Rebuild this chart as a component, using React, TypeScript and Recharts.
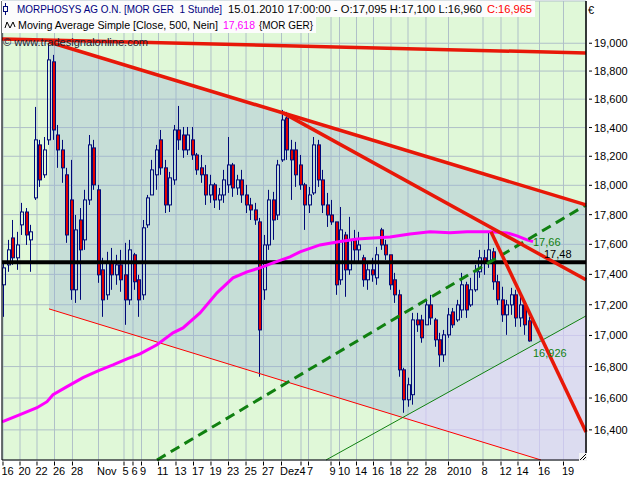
import React from 'react';
import {
  ComposedChart, XAxis, YAxis, CartesianGrid, Bar, Line, Area,
  ReferenceLine, ReferenceDot,
} from 'recharts';

const FONT = '"Liberation Sans", Arial, sans-serif';
const NAVY = '#000a78';
const RED = '#e00000';
const LINE_RED = '#e81808';
const GREEN = '#108010';

// ---- candle data (time index = half trading day bars) ----
const opens = [17.331, 17.463, 17.643, 17.510, 17.731, 17.818, 17.630, 17.914, 18.279, 18.072,
  18.314, 18.866, 18.348, 18.244, 18.072, 17.900, 17.298, 17.764, 17.630, 17.900,
  18.258, 17.969, 17.430, 17.265, 17.483, 17.397, 17.463, 17.397, 17.232, 17.530,
  17.364, 17.265, 17.731, 17.934, 18.072, 18.314, 18.120, 17.866, 18.037, 18.383,
  18.348, 18.244, 18.314, 18.209, 18.120, 18.072, 17.934, 18.003, 17.900, 17.934,
  18.003, 18.140, 17.982, 18.037, 17.934, 17.866, 17.832, 17.751, 17.298, 17.596,
  17.900, 17.798, 18.175, 18.467, 18.244, 18.244, 18.140, 18.003, 17.866, 17.948,
  18.279, 18.037, 17.866, 17.798, 17.751, 17.364, 17.663, 17.430, 17.630, 17.563,
  17.510, 17.364, 17.430, 17.377, 17.697, 17.596, 17.530, 17.364, 17.265, 16.779,
  16.589, 16.621, 17.101, 17.101, 17.069, 17.199, 17.101, 16.972, 16.875, 17.004,
  17.153, 17.101, 17.166, 17.331, 17.199, 17.298, 17.417, 17.510, 17.483, 17.550,
  17.351, 17.232, 17.134, 17.199, 17.265, 17.114, 17.199, 17.095];
const highs = [17.476, 17.630, 17.764, 17.684, 17.880, 17.845, 17.731, 18.545, 18.314, 18.334,
  19.002, 18.916, 18.418, 18.314, 18.120, 18.175, 17.798, 17.845, 17.969, 18.348,
  18.314, 18.003, 17.510, 17.550, 17.576, 17.530, 17.563, 17.610, 17.630, 17.543,
  17.397, 17.764, 17.934, 18.175, 18.279, 18.383, 18.175, 18.092, 18.418, 18.552,
  18.404, 18.404, 18.404, 18.223, 18.209, 18.140, 18.072, 18.017, 17.982, 18.106,
  18.334, 18.154, 18.072, 18.106, 18.003, 17.914, 17.880, 17.778, 17.663, 17.969,
  17.955, 18.175, 18.524, 18.510, 18.314, 18.300, 18.209, 18.017, 17.989, 18.334,
  18.314, 18.106, 17.948, 17.900, 17.751, 17.852, 17.684, 17.785, 17.697, 17.684,
  17.530, 17.483, 17.510, 17.583, 17.711, 17.630, 17.530, 17.410, 17.298, 16.792,
  16.729, 17.147, 17.147, 17.134, 17.232, 17.265, 17.114, 17.017, 17.036, 17.179,
  17.179, 17.232, 17.410, 17.351, 17.377, 17.463, 17.563, 17.563, 17.677, 17.576,
  17.397, 17.318, 17.232, 17.311, 17.298, 17.265, 17.212, 17.120];
const lows = [17.121, 17.417, 17.463, 17.430, 17.663, 17.596, 17.417, 17.900, 17.989, 18.051,
  18.279, 18.314, 18.120, 18.017, 17.610, 17.232, 17.212, 17.232, 17.563, 17.866,
  17.969, 17.344, 17.121, 17.232, 17.298, 17.331, 17.285, 17.069, 17.199, 17.298,
  17.121, 17.232, 17.711, 17.934, 17.969, 18.072, 17.811, 17.818, 18.003, 18.244,
  18.189, 18.209, 18.175, 18.072, 18.017, 17.866, 17.880, 17.845, 17.832, 17.880,
  17.948, 17.921, 17.934, 17.880, 17.811, 17.764, 17.731, 16.735, 17.232, 17.563,
  17.630, 17.764, 18.161, 18.175, 17.900, 17.989, 17.969, 17.697, 17.811, 17.934,
  17.989, 17.811, 17.717, 17.731, 17.265, 17.331, 17.252, 17.397, 17.483, 17.483,
  17.318, 17.298, 17.351, 17.331, 17.563, 17.496, 17.298, 17.212, 16.735, 16.507,
  16.545, 16.558, 17.023, 16.953, 17.069, 17.069, 16.927, 16.798, 16.830, 16.985,
  17.049, 17.088, 17.114, 17.114, 17.186, 17.285, 17.377, 17.397, 17.443, 17.298,
  17.199, 17.088, 17.004, 17.134, 17.056, 17.056, 17.004, 16.960];
const closes = [17.443, 17.563, 17.510, 17.596, 17.818, 17.663, 17.684, 18.314, 18.037, 18.244,
  18.880, 18.383, 18.244, 18.120, 17.663, 17.298, 17.697, 17.563, 17.900, 18.279,
  18.003, 17.397, 17.232, 17.483, 17.397, 17.463, 17.364, 17.232, 17.563, 17.351,
  17.232, 17.711, 17.914, 18.106, 18.244, 18.120, 17.866, 18.051, 18.383, 18.314,
  18.244, 18.348, 18.209, 18.106, 18.072, 17.934, 18.003, 17.900, 17.934, 18.037,
  18.140, 17.982, 18.037, 17.934, 17.866, 17.832, 17.764, 17.036, 17.596, 17.900,
  17.764, 18.140, 18.453, 18.244, 18.175, 18.072, 18.003, 17.866, 17.934, 18.279,
  18.037, 17.866, 17.798, 17.751, 17.331, 17.697, 17.430, 17.630, 17.563, 17.596,
  17.364, 17.430, 17.397, 17.530, 17.596, 17.530, 17.331, 17.265, 16.779, 16.589,
  16.684, 17.101, 17.069, 16.985, 17.199, 17.114, 16.972, 16.875, 17.004, 17.134,
  17.069, 17.199, 17.331, 17.166, 17.298, 17.417, 17.510, 17.483, 17.563, 17.351,
  17.232, 17.134, 17.199, 17.265, 17.114, 17.199, 17.069, 16.965];

// ---- moving average (500) read at sample points ----
const maT = [0, 4.01, 7.79, 10.02, 11.35, 14.47, 18.03, 21.37, 24.71, 27.83, 30.72, 34.5, 38.06, 40.29,
  44.08, 47.86, 51.42, 54.54, 57.43, 60.33, 64.11, 66.34, 70.79, 74.57, 79.02, 82.59, 86.37, 90.82,
  95.28, 99.73, 103.51, 108.63, 112.42, 114.64, 116.87, 118.21];
const maV = [16.45, 16.495, 16.539, 16.577, 16.621, 16.672, 16.729, 16.773, 16.811, 16.849, 16.881, 16.94,
  17.017, 17.049, 17.147, 17.278, 17.377, 17.417, 17.443, 17.476, 17.516, 17.55, 17.596, 17.616,
  17.636, 17.643, 17.65, 17.67, 17.684, 17.677, 17.684, 17.684, 17.677, 17.657, 17.63, 17.618];

// ---- axes ----
const X_DOMAIN = [0, 130];
const Y_DOMAIN = [16.213, 19.308];
const yTicks = [16.4, 16.6, 16.8, 17.0, 17.2, 17.4, 17.6, 17.8, 18.0, 18.2, 18.4, 18.6, 18.8, 19.0];
const xTickT = [0.22, 4.01, 7.79, 11.69, 15.69, 21.48, 27.16, 29.16, 31.05, 34.84, 38.73, 42.63, 46.52,
  50.42, 54.32, 58.21, 62.22, 66.56, 68.23, 73.24, 75.13, 78.91, 82.7, 86.59, 90.38, 94.38, 99.39,
  107.07, 111.08, 114.86, 119.65, 124.99];
const xTickLabels = ['16', '20', '22', '26', '28', 'Nov', '5', '6', '9', '11', '13', '17', '19', '23',
  '25', '27', 'Dez', '4', '7', '9', '10', '14', '16', '18', '22', '28', '2010', '8', '12', '14', '16', '19'];

// ---- drawing tools (trend lines, channels) ----
const topLine = [{ x: 0, y: 19.031 }, { x: 130, y: 18.93 }];
const channelUpper = [{ x: 10.46, y: 19.009 }, { x: 130, y: 17.866 }];
const channelLower = [{ x: 10.46, y: 17.173 }, { x: 119.98, y: 16.213 }];
const trend2 = [{ x: 62.55, y: 18.503 }, { x: 130, y: 17.364 }];
const trendSteep = [{ x: 108.85, y: 17.684 }, { x: 130, y: 16.387 }];
const greenDashed = [{ x: 34.5, y: 16.213 }, { x: 130, y: 17.866 }];
const greenThin = [{ x: 72.12, y: 16.213 }, { x: 130, y: 17.127 }];
const horizLevel = 17.48;

const channelT = [10.46, 89.26, 130];
const channelLow = [17.173, 16.476, 17.127];
const channelHigh = [19.009, 18.248, 17.866];
const lavT = [89.26, 119.98, 130];
const lavLow = [16.476, 16.213, 16.213];
const lavHigh = [16.476, 16.966, 17.127];

const valueLabels = [
  { t: 118.2, p: 17.66, text: '17,66', color: GREEN, dx: 0, dy: 10.5 },
  { t: 120.65, p: 17.48, text: '17,48', color: '#000', dx: 0, dy: -4 },
  { t: 118.2, p: 16.926, text: '16,926', color: GREEN, dx: 0, dy: 10.2 },
];

// ---- legend text pieces ----
const legendPieces = [
  { text: 'MORPHOSYS AG O.N. [MOR GER  1 Stunde]', color: '#000080', x: 17, y: 13, w: 205 },
  { text: '15.01.2010 17:00:00 - O:17,095 H:17,100 L:16,960', color: '#000', x: 228, y: 13, w: 254 },
  { text: 'C:16,965', color: '#ff0000', x: 487, y: 13, w: 45 },
  { text: 'Moving Average Simple [Close, 500, Nein]', color: '#000', x: 18, y: 29, w: 200 },
  { text: '17,618', color: '#ff00ff', x: 223, y: 29, w: 32 },
  { text: '{MOR GER}', color: '#000', x: 259, y: 29, w: 54 },
  { text: '© www.tradesignalonline.com', color: '#202030', x: 3, y: 46, w: 145 },
];

const candleRows = opens.map((o, i) => ({
  t: i + 0.5, o, h: highs[i], l: lows[i], c: closes[i], range: [lows[i], highs[i]],
}));
const maRows = maT.map((t, i) => ({ t, ma: maV[i] }));
const channelRows = channelT.map((t, i) => ({ t, band: [channelLow[i], channelHigh[i]] }));
const lavRows = lavT.map((t, i) => ({ t, band: [lavLow[i], lavHigh[i]] }));

const fmt = (v: number) => v.toFixed(3).replace('.', ',');

function Candle(props: any) {
  const { x, y, width, height, payload } = props;
  if (x == null || y == null || !payload) return null;
  const top = Math.min(y, y + height);
  const bot = Math.max(y, y + height);
  const { o, h, l, c } = payload;
  const span = Math.log(h) - Math.log(l);
  const k = span > 0 ? (bot - top) / span : 0;
  const yo = top + (Math.log(h) - Math.log(o)) * k;
  const yc = top + (Math.log(h) - Math.log(c)) * k;
  const cx = x + width / 2;
  const left = Math.round(cx - 2);
  const bt = Math.min(yo, yc);
  const bb = Math.max(yo, yc);
  const wx = left + 1.5;
  return (
    <g>
      <line x1={wx} x2={wx} y1={top} y2={bt} stroke={NAVY} strokeWidth={1} />
      <line x1={wx} x2={wx} y1={bb} y2={bot} stroke={NAVY} strokeWidth={1} />
      <rect x={left + 0.5} y={bt} width={3} height={Math.max(bb - bt, 1)}
        fill={c < o ? RED : 'none'} stroke={NAVY} strokeWidth={1} />
    </g>
  );
}

function XTick(props: any) {
  const { x, y, payload } = props;
  const idx = xTickT.indexOf(payload.value);
  return (
    <g>
      <line x1={x} x2={x} y1={y + 1.5} y2={y + 5.5} stroke="#000" strokeWidth={1} />
      <text x={x - 1.5} y={y + 15} fontSize={11} fontFamily={FONT} fill="#000">
        {idx >= 0 ? xTickLabels[idx] : ''}
      </text>
    </g>
  );
}

function YTick(props: any) {
  const { x, y, payload } = props;
  return (
    <g>
      <line x1={x + 3} x2={x + 6} y1={y} y2={y} stroke="#000" strokeWidth={1} />
      <text x={x + 8} y={y + 4} fontSize={11} fontFamily={FONT} fill="#000">{fmt(payload.value)}</text>
    </g>
  );
}

export default function App() {
  return (
    <div style={{ position: 'absolute', left: 0, top: 0, width: 640, height: 480, background: '#fff', fontFamily: FONT }}>
      <ComposedChart width={640} height={480} data={candleRows}
        margin={{ top: 1, right: 0, bottom: 0, left: 2 }}>
        <CartesianGrid stroke="#b0c0c8" fill="#e0f8d8" strokeWidth={1} />
        <XAxis dataKey="t" type="number" domain={X_DOMAIN} allowDataOverflow ticks={xTickT} interval={0}
          height={20} axisLine={false} tickLine={false} tickSize={0} tickMargin={0} tick={<XTick />} />
        <YAxis orientation="right" scale="log" type="number" domain={Y_DOMAIN} allowDataOverflow ticks={yTicks}
          interval={0} width={54} axisLine={false} tickLine={false} tickSize={0} tickMargin={0} tick={<YTick />} />
        <Area data={channelRows} dataKey="band" type="linear" stroke="none" fill="rgb(150,175,215)"
          fillOpacity={0.35} isAnimationActive={false} />
        <Area data={lavRows} dataKey="band" type="linear" stroke="none" fill="rgb(218,205,253)"
          fillOpacity={0.65} isAnimationActive={false} />
        <Bar dataKey="range" barSize={3} shape={Candle} isAnimationActive={false} />
        <ReferenceLine segment={channelLower} stroke="#ff0000" strokeWidth={1} />
        <ReferenceLine segment={greenThin} stroke={GREEN} strokeWidth={1} />
        <ReferenceLine y={horizLevel} stroke="#000" strokeWidth={4} />
        <Line data={maRows} dataKey="ma" type="linear" stroke="#ff00ff" strokeWidth={3} dot={false}
          isAnimationActive={false} />
        <ReferenceLine segment={greenDashed} stroke={GREEN} strokeWidth={3} strokeDasharray="10 6" />
        <ReferenceLine segment={topLine} stroke={LINE_RED} strokeWidth={3.5} />
        <ReferenceLine segment={channelUpper} stroke={LINE_RED} strokeWidth={3.5} />
        <ReferenceLine segment={trend2} stroke={LINE_RED} strokeWidth={3.5} />
        <ReferenceLine segment={trendSteep} stroke={LINE_RED} strokeWidth={3.5} />
        {valueLabels.map((v, i) => (
          <ReferenceDot key={i} x={v.t} y={v.p} r={1}
            shape={(p: any) => (
              <text x={p.cx + v.dx} y={p.cy + v.dy} fontSize={11} fontFamily={FONT} fill={v.color}>{v.text}</text>
            )} />
        ))}
        <ReferenceLine x={0} stroke="#000" strokeWidth={1} />
        <ReferenceLine x={130} stroke="#000" strokeWidth={1.5} />
        <ReferenceLine y={Y_DOMAIN[0]} stroke="#000" strokeWidth={1} />
      </ComposedChart>

      {/* legend */}
      <svg width={640} height={50} style={{ position: 'absolute', left: 0, top: 0, pointerEvents: 'none' }}>
        <rect x={2} y={1} width={533} height={16} fill="#fcfcfc" />
        <rect x={2} y={17} width={314} height={16} fill="#fcfcfc" />
        <line x1={5.5} x2={5.5} y1={3} y2={15} stroke={NAVY} strokeWidth={1} />
        <rect x={3.5} y={6.5} width={4} height={5} fill="#fcfcfc" stroke={NAVY} strokeWidth={1} />
        <polyline points="5,28 7,22 10,28 13,22 15,27" fill="none" stroke="#000" strokeWidth={1} />
        {legendPieces.map((p, i) => (
          <text key={i} x={p.x} y={p.y} fontSize={11} fontFamily={FONT} fill={p.color}
            textLength={p.w} lengthAdjust="spacingAndGlyphs" style={{ whiteSpace: 'pre' }}>{p.text}</text>
        ))}
        <text x={588} y={14} fontSize={11} fontFamily={FONT} fill="#000">€</text>
      </svg>
      <svg width={8} height={8} style={{ position: 'absolute', left: 579, top: 453 }}>
        <rect x={0} y={0} width={8} height={8} fill="#f4f4f4" />
        <line x1={7} y1={1} x2={1} y2={7} stroke="#000" strokeWidth={1} />
        <line x1={7} y1={4} x2={4} y2={7} stroke="#000" strokeWidth={1} />
      </svg>
    </div>
  );
}
